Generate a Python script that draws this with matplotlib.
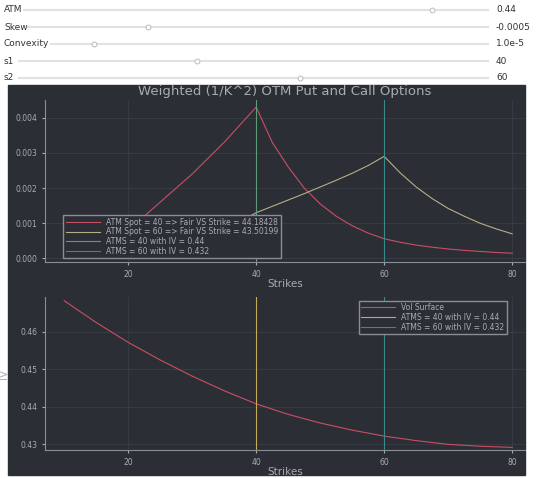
import matplotlib
matplotlib.use("Agg")
import matplotlib.pyplot as plt
from matplotlib.patches import Rectangle

slider_names = ["ATM", "Skew", "Convexity", "s1", "s2"]
slider_values = ["0.44", "-0.0005", "1.0e-5", "40", "60"]
slider_pos = [0.88, 0.26, 0.10, 0.38, 0.60]

strikes = [10, 12.5, 15, 17.5, 20, 22.5, 25, 27.5, 30, 32.5, 35, 37.5, 40,
           42.5, 45, 47.5, 50, 52.5, 55, 57.5, 60, 62.5, 65, 67.5, 70, 72.5, 75, 77.5, 80]
w40 = [0.0001, 0.0002, 0.0004, 0.0006, 0.0009, 0.0012, 0.0016, 0.0020, 0.0024, 0.00285,
       0.0033, 0.0038, 0.0043, 0.0033, 0.0026, 0.0020, 0.00155, 0.0012, 0.00093, 0.00072,
       0.00056, 0.00046, 0.00038, 0.00032, 0.00027, 0.00023, 0.0002, 0.00017, 0.00015]
w60 = [0.0, 0.00002, 0.00004, 0.00008, 0.00013, 0.0002, 0.0003, 0.0004, 0.00052, 0.00066,
       0.0008, 0.00105, 0.0013, 0.00148, 0.00166, 0.00184, 0.00203, 0.00222, 0.00242,
       0.00264, 0.0029, 0.00243, 0.00203, 0.0017, 0.00142, 0.0012, 0.001, 0.00084, 0.0007]
iv_strikes = [10, 15, 20, 25, 30, 35, 40, 45, 50, 55, 60, 65, 70, 75, 80]
iv = [0.4683, 0.4625, 0.4572, 0.4525, 0.4482, 0.4443, 0.4408, 0.4380, 0.4357,
      0.4338, 0.4322, 0.4310, 0.4300, 0.4295, 0.4292]
s1, s2 = 40, 60
labels_top = ["ATM Spot = 40 => Fair VS Strike = 44.18428",
              "ATM Spot = 60 => Fair VS Strike = 43.50199",
              "ATMS = 40 with IV = 0.44", "ATMS = 60 with IV = 0.432"]
labels_bot = ["Vol Surface", "ATMS = 40 with IV = 0.44", "ATMS = 60 with IV = 0.432"]

W, H = 540, 478
fig = plt.figure(figsize=(5.4, 4.78), dpi=100)
fig.patch.set_facecolor("white")

ys = [10, 27, 44, 61, 78]
for name, val, p, y in zip(slider_names, slider_values, slider_pos, ys):
    yf = 1 - y / H
    fig.text(4 / W, yf, name, fontsize=6.5, va="center", color="#333333")
    x0 = (len(name) * 4.5 + 10) / W
    x1 = 488 / W
    fig.add_artist(plt.Line2D([x0, x1], [yf, yf], color="#e2e2e2", lw=1.5))
    xp = x0 + p * (x1 - x0)
    fig.add_artist(plt.Line2D([xp], [yf], marker="o", ms=3.5, mfc="white", mec="#bbbbbb", mew=0.7))
    fig.text(496 / W, yf, val, fontsize=6.5, va="center", color="#333333")

bg = "#2b2e35"
fig.add_artist(Rectangle((8 / W, 1 - 475 / H), 517 / W, 390 / H,
                         transform=fig.transFigure, color=bg, zorder=0))
txt = "#a9adb3"
fig.text(285 / W, 1 - 92 / H, "Weighted (1/K^2) OTM Put and Call Options",
         ha="center", va="center", fontsize=9.5, color=txt)

def style(ax):
    ax.set_facecolor(bg)
    for s in ax.spines.values():
        s.set_color("#8a8e94")
    ax.spines["top"].set_visible(False)
    ax.spines["right"].set_visible(False)
    ax.tick_params(colors=txt, labelsize=5.5, length=2)
    ax.grid(color="#3c4048", lw=0.5)
    ax.set_xlabel("Strikes", color=txt, fontsize=7.5, labelpad=0)

ax1 = fig.add_axes([45 / W, 1 - 262 / H, 480 / W, 162 / H])
style(ax1)
ax1.plot(strikes, w40, color="#c94f62", lw=0.8, label=labels_top[0])
ax1.plot(strikes, w60, color="#b7ae84", lw=0.8, label=labels_top[1])
ax1.axvline(s1, color="#5c9c78", lw=0.8, label=labels_top[2])
ax1.axvline(s2, color="#3a8a8c", lw=0.8, label=labels_top[3])
ax1.set_xlim(7, 82)
ax1.set_ylim(-0.0001, 0.0045)
ax1.set_xticks([20, 40, 60, 80])
ax1.set_yticks([0, 0.001, 0.002, 0.003, 0.004])
ax1.yaxis.set_major_formatter(matplotlib.ticker.FormatStrFormatter("%.3f"))
ax1.legend(loc="lower left", bbox_to_anchor=(0.03, 0.0), fontsize=5.5,
           facecolor=bg, edgecolor="#8a8e94", labelcolor=txt,
           fancybox=False, framealpha=1, handlelength=4.5, borderpad=0.3,
           labelspacing=0.1)

ax2 = fig.add_axes([45 / W, 1 - 450 / H, 480 / W, 153 / H])
style(ax2)
ax2.plot(iv_strikes, iv, color="#c94f62", lw=0.8, label=labels_bot[0])
ax2.axvline(s1, color="#c9a85a", lw=0.8, label=labels_bot[1])
ax2.axvline(s2, color="#3a8a8c", lw=0.8, label=labels_bot[2])
ax2.set_xlim(7, 82)
ax2.set_ylim(0.4285, 0.4693)
ax2.set_xticks([20, 40, 60, 80])
ax2.set_yticks([0.43, 0.44, 0.45, 0.46])
ax2.yaxis.set_major_formatter(matplotlib.ticker.FormatStrFormatter("%.2f"))
ax2.set_ylabel("IV", color=txt, fontsize=7.5, labelpad=8)
ax2.legend(loc="upper right", bbox_to_anchor=(0.97, 1.0), fontsize=5.5,
           facecolor=bg, edgecolor="#8a8e94", labelcolor=txt,
           fancybox=False, framealpha=1, handlelength=4.5, borderpad=0.3,
           labelspacing=0.1)

fig.savefig("out.png", dpi=100, facecolor="white")
